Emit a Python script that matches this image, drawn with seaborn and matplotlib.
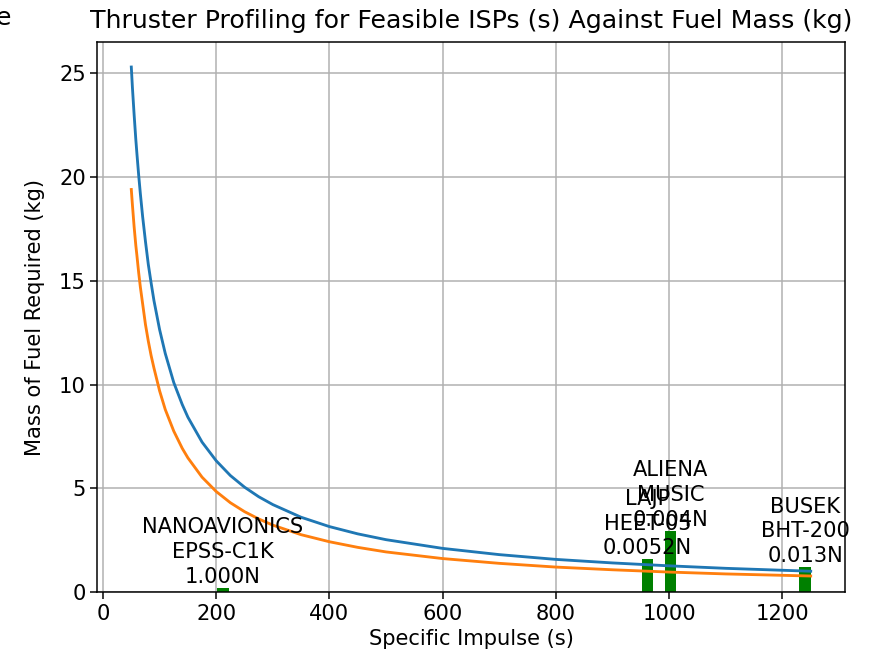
# thruster profiling: fuel mass vs specific impulse, with candidate thrusters as bars

import numpy as np
import matplotlib
matplotlib.use("Agg")
import matplotlib.pyplot as plt
import seaborn as sns
import pandas as pd

# curve readings (Isp in s, fuel mass in kg)
isp = [50, 52, 55, 58, 60, 63, 66, 70, 75, 80, 85, 90, 100, 110, 125, 140,
       150, 175, 200, 225, 250, 275, 300, 350, 400, 450, 500, 600, 700, 800,
       900, 1000, 1100, 1250]
fuel_a = [25.3, 24.3, 23.0, 21.8, 21.1, 20.1, 19.2, 18.1, 16.9, 15.8, 14.9,
          14.05, 12.65, 11.5, 10.1, 9.04, 8.43, 7.23, 6.33, 5.62, 5.06, 4.6,
          4.22, 3.61, 3.16, 2.81, 2.53, 2.11, 1.81, 1.58, 1.41, 1.27, 1.15, 1.01]
fuel_b = [19.4, 18.65, 17.6, 16.7, 16.2, 15.4, 14.7, 13.9, 12.9, 12.1, 11.4,
          10.8, 9.7, 8.8, 7.76, 6.93, 6.47, 5.54, 4.85, 4.31, 3.88, 3.53,
          3.23, 2.77, 2.43, 2.16, 1.94, 1.62, 1.39, 1.21, 1.08, 0.97, 0.88, 0.78]

# thrusters
thruster_isp = [212, 962, 1002, 1240]
thruster_mass = [0.2, 1.58, 2.97, 1.2]
thruster_labels = ["NANOAVIONICS\nEPSS-C1K\n1.000N",
                   "LAJP\nHEET-05\n0.0052N",
                   "ALIENA\nMUSIC\n0.004N",
                   "BUSEK\nBHT-200\n0.013N"]

s = 1.36   # line scale
f = 1.51   # font scale
plt.rcParams.update({
    "font.family": ["DejaVu Sans"],
    "font.size": 10 * f,
    "axes.linewidth": 0.8 * s,
    "xtick.major.size": 3.5 * s,
    "ytick.major.size": 3.5 * s,
    "xtick.major.width": 0.8 * s,
    "ytick.major.width": 0.8 * s,
    "lines.linewidth": 1.5 * s,
    "grid.linewidth": 0.8 * s,
    "grid.color": "#b0b0b0",
})

df = pd.DataFrame({"isp": isp, "a": fuel_a, "b": fuel_b})

fig = plt.figure(figsize=(8.69, 6.58), dpi=100)
ax = fig.add_subplot()
fig.subplots_adjust(left=0.112, right=0.972, top=0.936, bottom=0.100)

sns.lineplot(data=df, x="isp", y="a", ax=ax, color="#1f77b4", zorder=3)
sns.lineplot(data=df, x="isp", y="b", ax=ax, color="#ff7f0e", zorder=3)

ax.bar(thruster_isp, thruster_mass, width=20, color="green", zorder=2)

for x, h, lab in zip(thruster_isp, thruster_mass, thruster_labels):
    ax.text(x, h + 0.05, lab, ha="center", va="bottom", fontsize=10 * f,
            linespacing=1.3, zorder=4)

ax.grid(True)
ax.set_axisbelow(True)
ax.set_xlim(-10, 1310)
ax.set_ylim(0, 26.5)
ax.set_xticks(np.arange(0, 1201, 200))
ax.set_yticks(np.arange(0, 26, 5))
ax.set_xlabel("Specific Impulse (s)")
ax.set_ylabel("Mass of Fuel Required (kg)", labelpad=10)
ax.set_title("Thruster Profiling for Feasible ISPs (s) Against Fuel Mass (kg)",
             fontsize=18.2, pad=10)

# clipped leftover of a neighbouring label
fig.text(0.004, 0.972, "e", ha="center", va="center", fontsize=18.2)

plt.savefig("out.png", dpi=100)
